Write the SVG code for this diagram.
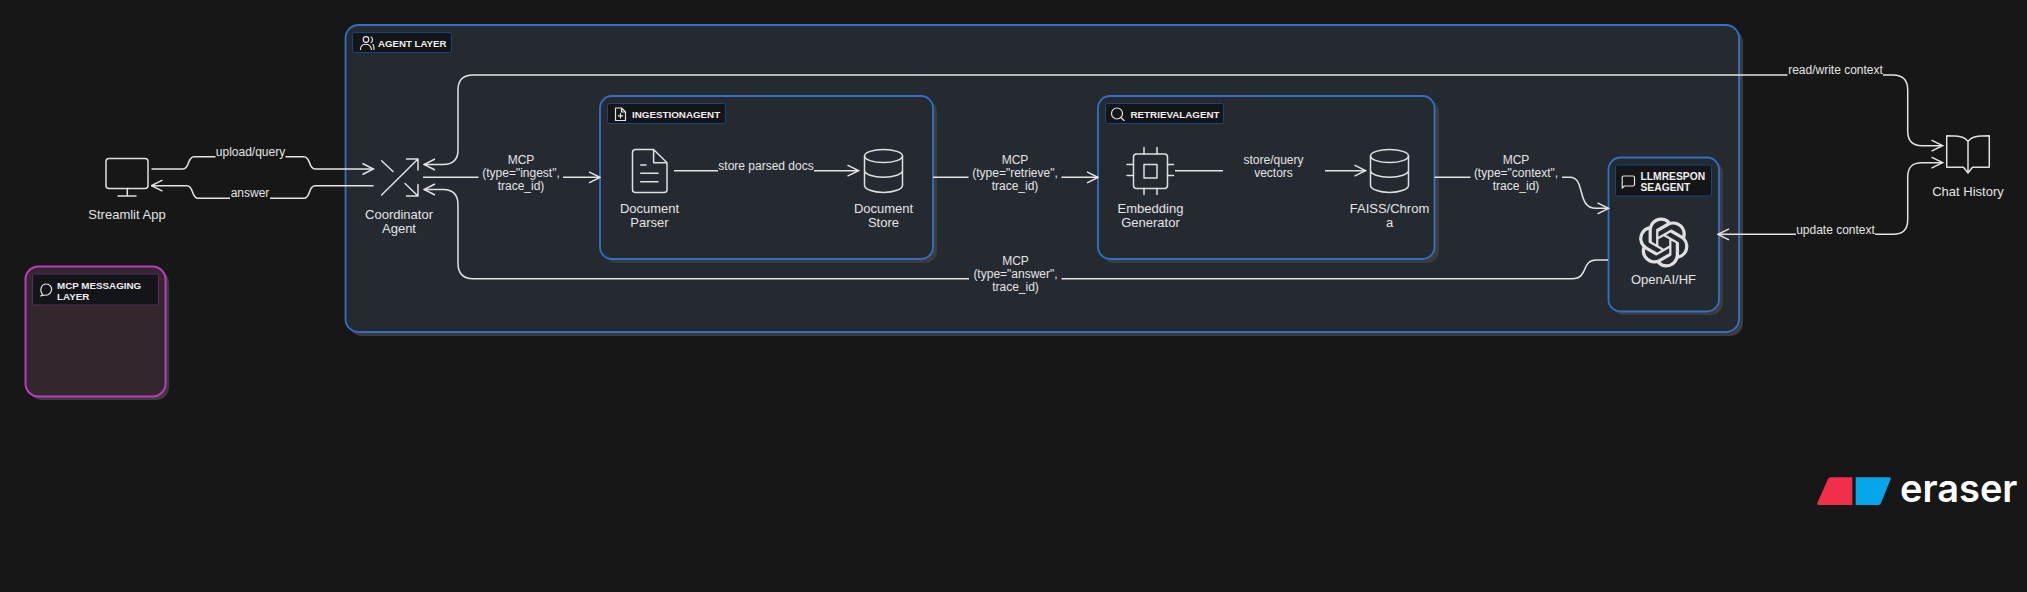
<svg xmlns="http://www.w3.org/2000/svg" width="2027" height="592" viewBox="0 0 2027 592">
<style>
text{font-family:"Liberation Sans",Arial,sans-serif;fill:#e4e4e4}
.n{font-size:13px;text-anchor:middle}
.e{font-size:12px;text-anchor:middle}
.t{font-size:10px;font-weight:700;fill:#eeeeee}
.box{fill:#252a31;stroke:#3270c8;stroke-width:1.800}
.sh{fill:#3c3c3c}
.tag{fill:#141518;stroke:#1d4478;stroke-width:1}
.i{fill:none;stroke:#e0e0e0;stroke-width:1.500;stroke-linecap:round;stroke-linejoin:round}
.is{fill:none;stroke:#e4e4e4;stroke-width:1.200;stroke-linecap:round;stroke-linejoin:round}
.c{fill:none;stroke:#e4e4e4;stroke-width:1.500}
</style>
<defs>
<marker id="a" viewBox="0 0 14 14" markerWidth="14" markerHeight="14" refX="13" refY="7" orient="auto" markerUnits="userSpaceOnUse">
<path d="M2 1.500L13 7L2 12.500" fill="none" stroke="#e4e4e4" stroke-width="1.500"/>
</marker>
</defs>
<rect width="2027" height="592" fill="#171717"/>

<g id="agent-layer">
<rect class="sh" x="349" y="29" width="1394" height="307" rx="13"/>
<rect class="box" x="345.500" y="25" width="1393.500" height="307" rx="13"/>
<rect class="tag" x="352.500" y="32.500" width="99" height="20" rx="2"/>
<g class="is"><circle cx="366" cy="39.500" r="2.800"/><path d="M360.500 49.500c0-7 10-7 11 0M371 37c2 .8 2 4.500 0 5.500M373 44.500c.8 1.500 1 3 1 5"/></g>
<text class="t" x="378" y="46.500" style="font-size:9.700px">AGENT LAYER</text>
</g>

<g id="ingestion-agent">
<rect class="sh" x="604" y="100" width="333" height="163" rx="12"/>
<rect class="box" x="600" y="96" width="333" height="163" rx="12"/>
<rect class="tag" x="607.500" y="103.500" width="118" height="20" rx="2"/>
<path class="is" d="M615.500 108h6l4 4v8.500h-10zM621.500 108v4h4M620.500 113.500v4.500M618.300 115.800h4.400"/>
<text class="t" x="632" y="117.500" style="font-size:9.800px">INGESTIONAGENT</text>
</g>

<g id="retrieval-agent">
<rect class="sh" x="1102" y="100" width="337" height="163" rx="12"/>
<rect class="box" x="1098" y="96" width="336.500" height="163" rx="12"/>
<rect class="tag" x="1105.500" y="103.500" width="118" height="20" rx="2"/>
<g class="is"><circle cx="1117" cy="113.500" r="5.500"/><path d="M1121 117.500l3 3"/></g>
<text class="t" x="1130.500" y="117.500" style="font-size:9.800px">RETRIEVALAGENT</text>
</g>

<g id="llm-response-agent">
<rect class="sh" x="1612" y="161" width="111" height="154" rx="12"/>
<rect class="box" x="1608.500" y="157.500" width="110.500" height="154" rx="12"/>
<rect class="tag" x="1615.500" y="165" width="96" height="31" rx="2"/>
<path class="is" d="M1623.500 176h9.500q1.500 0 1.500 1.500v7q0 1.500-1.500 1.500h-8.500l-2.300 2v-10.500q0-1.500 1.300-1.500z"/>
<text class="t" x="1640.500" y="179.500" style="font-size:10.300px">LLMRESPON</text>
<text class="t" x="1640.500" y="190.500" style="font-size:10.300px">SEAGENT</text>
</g>

<g id="mcp-messaging-layer">
<rect class="sh" x="29" y="270" width="140" height="130" rx="13"/>
<rect x="25.500" y="266.500" width="140" height="130" rx="13" fill="#33272f" stroke="#c038c4" stroke-width="2"/>
<rect x="32.500" y="274" width="126" height="31" rx="2" fill="#141518" stroke="#5e2a66"/>
<path class="is" d="M40.500 296c1.500-.5 2-1 2-1.500-3.500-4.500-.8-10.500 3.500-10.500 4 0 6 3 5.500 6-.5 3.500-4 6-7.500 5z"/>
<text class="t" x="57" y="288.500" style="font-size:9.800px">MCP MESSAGING</text>
<text class="t" x="57" y="299.500" style="font-size:9.800px">LAYER</text>
</g>

<g id="connectors">
<path class="c" marker-end="url(#a)" d="M151.500 169H183C190 169 187 156.700 194 156.700H215.500M285.500 156.700H304C311 156.700 308 169 315 169H373.500"/>
<path class="c" marker-end="url(#a)" d="M373.500 185.700H315C308 185.700 311 198.300 304 198.300H270M230 198.300H198C191 198.300 194 185.700 187 185.700H151.500"/>
<path class="c" marker-end="url(#a)" d="M423 177.300H478.500M563 177.300H600"/>
<path class="c" marker-end="url(#a)" d="M674 170.700H718M814 170.700H858.500"/>
<path class="c" marker-end="url(#a)" d="M933 177.300H968.500M1061.500 177.300H1098"/>
<path class="c" marker-end="url(#a)" d="M1175 170.700H1223M1325 170.700H1365.500"/>
<path class="c" marker-end="url(#a)" d="M1434.500 177.300H1470.500M1562 177.300H1570C1586 177.300 1576 208.300 1596 208.300H1608.500"/>
<path class="c" marker-end="url(#a)" d="M1608 260H1596C1581 260 1589 278.700 1572 278.700H1061.500M969 278.700H473C463 278.700 458 273 458 263V205C458 195 453 189.500 443 189.500H424"/>
<path class="c" marker-end="url(#a)" d="M1787.500 75H473C463 75 458 80 458 90V150C458 160 453 164.500 443 164.500H424"/>
<path class="c" d="M1883 75H1893C1903 75 1907.700 80 1907.700 90"/>
<path class="c" marker-end="url(#a)" d="M1907.700 90V131C1907.700 141 1912 145.700 1922 145.700H1942.500"/>
<path class="c" marker-end="url(#a)" d="M1796 234.300H1718"/>
<path class="c" marker-end="url(#a)" d="M1875 234.300H1893C1903 234.300 1907.700 230 1907.700 220V177C1907.700 167 1912 162.700 1922 162.700H1942.500"/>
<text class="e" x="250.500" y="156">upload/query</text>
<text class="e" x="250" y="197">answer</text>
<text class="e" x="521" y="164">MCP</text>
<text class="e" x="521" y="177">(type="ingest",</text>
<text class="e" x="521" y="190">trace_id)</text>
<text class="e" x="766" y="170">store parsed docs</text>
<text class="e" x="1015" y="164">MCP</text>
<text class="e" x="1015" y="177">(type="retrieve",</text>
<text class="e" x="1015" y="190">trace_id)</text>
<text class="e" x="1273.500" y="164">store/query</text>
<text class="e" x="1273.500" y="177">vectors</text>
<text class="e" x="1516" y="164">MCP</text>
<text class="e" x="1516" y="177">(type="context",</text>
<text class="e" x="1516" y="190">trace_id)</text>
<text class="e" x="1015.500" y="265">MCP</text>
<text class="e" x="1015.500" y="278">(type="answer",</text>
<text class="e" x="1015.500" y="291">trace_id)</text>
<text class="e" x="1835.500" y="74">read/write context</text>
<text class="e" x="1835.500" y="234">update context</text>
</g>

<g id="streamlit-app">
<rect class="i" x="106" y="158.500" width="42" height="30" rx="3"/>
<path class="i" d="M127.300 188.500V196M118 196H136"/>
<text class="n" x="127" y="218.500">Streamlit App</text>
</g>

<g id="coordinator-agent">
<path class="i" d="M381.600 195L418 159M406.500 159H418V170M381.600 160.700L393 171.500M405 183.500L418 196M406.500 196H418V184.500"/>
<text class="n" x="399" y="218.500">Coordinator</text>
<text class="n" x="399" y="233">Agent</text>
</g>

<g id="document-parser">
<path class="i" d="M653.600 149.500H635.500Q632.500 149.500 632.500 152.500V189.500Q632.500 192.500 635.500 192.500H664Q667 192.500 667 189.500V162.700ZM653.600 149.500V162.700H667M640.700 165H646M640.700 173.300H658M640.700 181.700H658"/>
<text class="n" x="649.500" y="212.500">Document</text>
<text class="n" x="649.500" y="226.500">Parser</text>
</g>

<g id="document-store">
<ellipse class="i" cx="883.500" cy="156" rx="19" ry="6.500"/>
<path class="i" d="M864.500 156V185.500C864.500 189 873 192.500 883.500 192.500S902.500 189 902.500 185.500V156M864.500 170.500C864.500 174 873 177.300 883.500 177.300S902.500 174 902.500 170.500"/>
<text class="n" x="883.500" y="212.500">Document</text>
<text class="n" x="883.500" y="226.500">Store</text>
</g>

<g id="embedding-generator">
<rect class="i" x="1133.500" y="154" width="34" height="34.500" rx="3"/>
<rect class="i" x="1144" y="164.500" width="13" height="13.500"/>
<path class="i" d="M1144 147.500V154M1157 147.500V154M1144 188.500V194.500M1157 188.500V194.500M1127 164.500H1133.500M1127 175.500H1133.500M1167.500 164.500H1173.500M1167.500 175.500H1173.500"/>
<text class="n" x="1150.500" y="212.500">Embedding</text>
<text class="n" x="1150.500" y="226.500">Generator</text>
</g>

<g id="faiss-chroma">
<ellipse class="i" cx="1389.500" cy="156" rx="19" ry="6.500"/>
<path class="i" d="M1370.500 156V185.500C1370.500 189 1379 192.500 1389.500 192.500S1408.500 189 1408.500 185.500V156M1370.500 170.500C1370.500 174 1379 177.300 1389.500 177.300S1408.500 174 1408.500 170.500"/>
<text class="n" x="1389.500" y="212.500">FAISS/Chrom</text>
<text class="n" x="1389.500" y="226.500">a</text>
</g>

<g id="openai-hf">
<path transform="translate(1638.800 217.500) scale(2.080)" fill="#e0e0e0" d="M22.2819 9.8211a5.9847 5.9847 0 0 0-.5157-4.9108 6.0462 6.0462 0 0 0-6.5098-2.9A6.0651 6.0651 0 0 0 4.9807 4.1818a5.9847 5.9847 0 0 0-3.9977 2.9 6.0462 6.0462 0 0 0 .7427 7.0966 5.98 5.98 0 0 0 .511 4.9107 6.051 6.051 0 0 0 6.5146 2.9001A5.9847 5.9847 0 0 0 13.2599 24a6.0557 6.0557 0 0 0 5.7718-4.2058 5.9894 5.9894 0 0 0 3.9977-2.9001 6.0557 6.0557 0 0 0-.7475-7.0729zm-9.022 12.6081a4.4755 4.4755 0 0 1-2.8764-1.0408l.1419-.0804 4.7783-2.7582a.7948.7948 0 0 0 .3927-.6813v-6.7369l2.02 1.1686a.071.071 0 0 1 .038.052v5.5826a4.504 4.504 0 0 1-4.4945 4.4944zm-9.6607-4.1254a4.4708 4.4708 0 0 1-.5346-3.0137l.142.0852 4.783 2.7582a.7712.7712 0 0 0 .7806 0l5.8428-3.3685v2.3324a.0804.0804 0 0 1-.0332.0615L9.74 19.9502a4.4992 4.4992 0 0 1-6.1408-1.6464zM2.3408 7.8956a4.485 4.485 0 0 1 2.3655-1.9728V11.6a.7664.7664 0 0 0 .3879.6765l5.8144 3.3543-2.0201 1.1685a.0757.0757 0 0 1-.071 0l-4.8303-2.7865A4.504 4.504 0 0 1 2.3408 7.872zm16.5963 3.8558L13.1038 8.364 15.1192 7.2a.0757.0757 0 0 1 .071 0l4.8303 2.7913a4.4944 4.4944 0 0 1-.6765 8.1042v-5.6772a.79.79 0 0 0-.407-.667zm2.0107-3.0231l-.142-.0852-4.7735-2.7818a.7759.7759 0 0 0-.7854 0L9.409 9.2297V6.8974a.0662.0662 0 0 1 .0284-.0615l4.8303-2.7866a4.4992 4.4992 0 0 1 6.6802 4.66zM8.3065 12.863l-2.02-1.1638a.0804.0804 0 0 1-.038-.0567V6.0742a4.4992 4.4992 0 0 1 7.3757-3.4537l-.142.0805L8.704 5.459a.7948.7948 0 0 0-.3927.6813zm1.0976-2.3654l2.602-1.4998 2.6069 1.4998v2.9994l-2.5974 1.4997-2.6067-1.4997Z"/>
<text class="n" x="1663.500" y="283.500">OpenAI/HF</text>
</g>

<g id="chat-history">
<path class="i" d="M1968 141.500C1965 136.500 1958 135.700 1946.700 135.700V167.300H1963.500L1968 173L1972.500 167.300H1989.300V135.700C1978 135.700 1971 136.500 1968 141.500ZM1968 141.500V173"/>
<text class="n" x="1968" y="196">Chat History</text>
</g>

<g id="eraser-logo">
<path d="M1830.500 477.300H1852.300V505H1819Q1816.500 505 1817.500 502.500L1828 479Q1829 477.300 1830.500 477.300Z" fill="#f0304a"/>
<path d="M1855.700 477.300H1889.500Q1891.500 477.300 1890.500 479.500L1881 503Q1880 505 1878.500 505H1855.700Z" fill="#06a6e8"/>
<text x="1900" y="502" style="font-family:Inter,'Liberation Sans',sans-serif;font-size:38px;font-weight:600;fill:#fff">eraser</text>
</g>
</svg>
